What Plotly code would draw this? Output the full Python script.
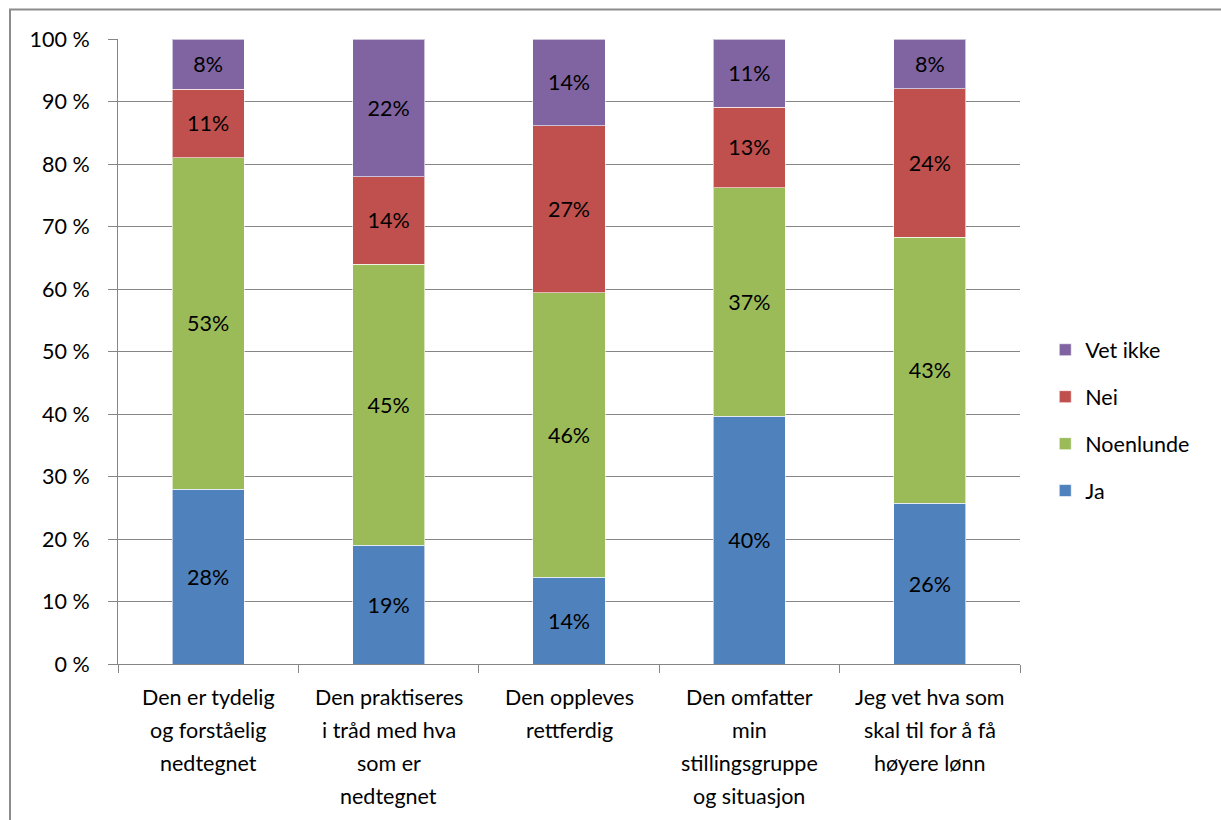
import plotly.graph_objects as go

# Survey statements (x categories), one list of lines per label
categories = [
    "Den er tydelig og forståelig nedtegnet",
    "Den praktiseres i tråd med hva som er nedtegnet",
    "Den oppleves rettferdig",
    "Den omfatter min stillingsgruppe og situasjon",
    "Jeg vet hva som skal til for å få høyere lønn",
]
category_lines = [
    ["Den er tydelig", "og forståelig", "nedtegnet"],
    ["Den praktiseres", "i tråd med hva", "som er", "nedtegnet"],
    ["Den oppleves", "rettferdig"],
    ["Den omfatter", "min", "stillingsgruppe", "og situasjon"],
    ["Jeg vet hva som", "skal til for å få", "høyere lønn"],
]

# Answer shares in percent
ja = [28, 19, 14, 40, 26]
noenlunde = [53, 45, 46, 37, 43]
nei = [11, 14, 27, 13, 24]
vet_ikke = [8, 22, 14, 11, 8]

y_ticks = [0, 10, 20, 30, 40, 50, 60, 70, 80, 90, 100]

FONT = "Lato"
FSIZE = 21.5
GRID = "#868686"

# (name, values, colour, legend rank) - stacked bottom to top
series = [
    ("Ja", ja, "#4F81BD", 4),
    ("Noenlunde", noenlunde, "#9BBB59", 3),
    ("Nei", nei, "#C0504D", 2),
    ("Vet ikke", vet_ikke, "#8064A2", 1),
]

fig = go.Figure()
for name, vals, color, rank in series:
    fig.add_trace(go.Bar(
        name=name,
        x=categories,
        y=vals,
        text=[f"{v}%" for v in vals],
        texttemplate="%{text}",
        textposition="inside",
        insidetextanchor="middle",
        textangle=0,
        textfont=dict(family=FONT, size=FSIZE, color="black"),
        marker=dict(color=color, line=dict(color="rgba(255,255,255,0.6)", width=1)),
        width=0.4,
        legendgroup=name,
        legendrank=rank,
        hoverinfo="skip",
    ))

# Multi-line category labels below the axis
annotations = []
for cat, lines in zip(categories, category_lines):
    for i, line in enumerate(lines):
        annotations.append(dict(
            x=cat, xref="x", y=0, yref="paper",
            text=line, showarrow=False,
            xanchor="center", yanchor="middle",
            yshift=-33 - 33 * i,
            font=dict(family=FONT, size=FSIZE, color="black"),
        ))

fig.update_layout(
    width=1221, height=820,
    margin=dict(l=118, r=201, t=39, b=156),
    plot_bgcolor="white", paper_bgcolor="white",
    barmode="stack", barnorm="percent",
    bargap=0.6,
    font=dict(family=FONT, size=FSIZE, color="black"),
    legend=dict(
        x=1.028, xanchor="left", y=0.39, yanchor="middle",
        traceorder="grouped", tracegroupgap=16,
        font=dict(family=FONT, size=FSIZE, color="black"),
        bgcolor="rgba(0,0,0,0)",
    ),
    annotations=annotations,
    shapes=[dict(
        type="rect", xref="paper", yref="paper",
        x0=(10 - 118) / 902, x1=1.4, y0=-0.5, y1=(664 - 9.5) / 625,
        line=dict(color="#8c8c8c", width=2), fillcolor="rgba(0,0,0,0)",
        layer="below",
    )],
)

fig.update_xaxes(
    type="category", showticklabels=False,
    ticks="outside", ticklen=8, tickcolor=GRID, tickson="boundaries",
    showline=True, linecolor=GRID, linewidth=1,
    showgrid=False,
)
fig.update_yaxes(
    range=[0, 100], tickvals=y_ticks, ticktext=[f"{t} %" for t in y_ticks],
    ticks="outside", ticklen=9, tickcolor=GRID,
    ticklabelstandoff=14,
    showline=True, linecolor=GRID, linewidth=1,
    showgrid=True, gridcolor=GRID, gridwidth=1,
    zeroline=False,
    tickfont=dict(family=FONT, size=FSIZE, color="black"),
)

fig.write_html("out.html")
